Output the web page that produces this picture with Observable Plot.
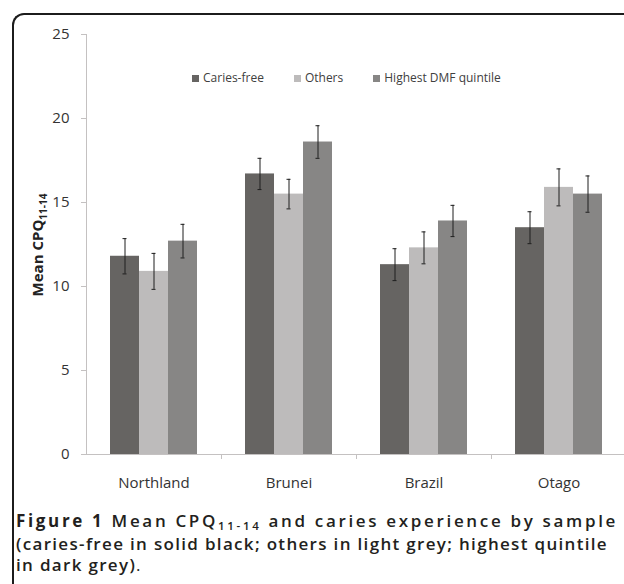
<!DOCTYPE html>
<html><head><meta charset="utf-8">
<script src="https://cdn.jsdelivr.net/npm/d3@7"></script>
<script src="https://cdn.jsdelivr.net/npm/@observablehq/plot@0.6"></script>
<style>
html,body{margin:0;padding:0;background:#fff;overflow:hidden}
#wrap{position:relative;width:624px;height:584px;overflow:hidden;background:#fff}
#frame{position:absolute;left:12px;top:13px;width:700px;height:700px;border-top:2px solid #1c1c1c;border-left:2px solid #1c1c1c;border-top-left-radius:12px;box-sizing:border-box}
#chart{position:absolute;left:0;top:0}
#legend{position:absolute;left:192px;top:70px;display:flex;gap:30px;font-family:'Open Sans';font-size:12px;line-height:16px;color:#404040;align-items:center}
#legend .item{display:flex;align-items:center}
#legend .sw{display:inline-block;width:7px;height:7px;margin-right:4px}
#ylabel{position:absolute;left:37px;top:245px;transform:translate(-50%,-50%) rotate(-90deg);font-family:'Open Sans';font-weight:700;font-size:15px;white-space:nowrap;color:#222}
#ylabel sub{font-size:10px;vertical-align:baseline;position:relative;top:4px}
#caption{position:absolute;left:16px;top:510px;width:610px;font-family:'Open Sans';font-size:17px;line-height:21px;color:#231f20;font-weight:600}
#caption > div{white-space:nowrap}
#caption b{font-weight:700}
#caption sub{font-size:0.68em;vertical-align:baseline;position:relative;top:0.3em}
#caption .n{font-weight:400}
</style></head>
<body><div id="wrap">
<div id="frame"></div>
<div id="chart"></div>
<div id="legend"></div>
<div id="ylabel">Mean CPQ<sub>11-14</sub></div>
<div id="caption">
  <div id="l1"><b>Figure 1</b> Mean CPQ<sub>11-14</sub> and caries experience by sample</div>
  <div id="l2">(caries-free in solid black; others in light grey; highest quintile</div>
  <div id="l3">in dark grey)<span class="n">.</span></div>
</div>
</div>
<script>
const categories = ["Northland", "Brunei", "Brazil", "Otago"];
const series = ["Caries-free", "Others", "Highest DMF quintile"];
const cariesFree = [11.8, 16.7, 11.3, 13.5];
const cariesFreeErr = [1.05, 0.93, 0.95, 0.95];
const others = [10.9, 15.5, 12.3, 15.9];
const othersErr = [1.07, 0.88, 0.95, 1.1];
const highest = [12.7, 18.6, 13.9, 15.5];
const highestErr = [1.0, 0.97, 0.93, 1.08];
const colors = ["#666462", "#bdbbbb", "#878685"];
const yTicks = [0, 5, 10, 15, 20, 25];

const values = [cariesFree, others, highest];
const errs = [cariesFreeErr, othersErr, highestErr];
const rows = [];
categories.forEach((c, i) => {
  series.forEach((s, j) => {
    const v = values[j][i], e = errs[j][i];
    rows.push({category: c, series: s, value: v, lo: v - e, hi: v + e});
  });
});

const axisColor = "#c4c1c1";
const plot = Plot.plot({
  width: 640,
  height: 500,
  marginLeft: 86,
  marginRight: 14,
  marginTop: 34,
  marginBottom: 46,
  style: {fontFamily: "Open Sans", fontSize: "15px", background: "transparent", maxWidth: "none", overflow: "visible"},
  fx: {domain: categories, padding: 0, label: null},
  x: {domain: series, paddingInner: 0, paddingOuter: 0.77, axis: null},
  y: {domain: [0, 25], label: null},
  color: {domain: series, range: colors},
  marks: [
    Plot.barY(rows, {fx: "category", x: "series", y: "value", fill: "series"}),
    Plot.ruleY([0], {stroke: axisColor}),
    Plot.ruleX(rows, {fx: "category", x: "series", y1: "lo", y2: "hi", stroke: "#1e1e1e", strokeWidth: 1}),
    Plot.tickY(rows, {fx: "category", x: "series", y: "lo", stroke: "#1e1e1e", insetLeft: 12.5, insetRight: 12.5}),
    Plot.tickY(rows, {fx: "category", x: "series", y: "hi", stroke: "#1e1e1e", insetLeft: 12.5, insetRight: 12.5}),
    Plot.axisY({ticks: yTicks, tickSize: 5, tickPadding: 12, stroke: axisColor, fill: "#333", fontSize: 15, label: null}),
    Plot.axisFx({anchor: "bottom", tickSize: 0, tickPadding: 23, fontSize: 15, fill: "#333", label: null})
  ]
});
document.getElementById("chart").appendChild(plot);

// axis line and category boundary ticks from the plot's own scales
function getScale(name) {
  const s = plot.scale(name);
  if (s && typeof s.apply === "function") return s;
  return Plot.scale({[name]: s});
}
const sfx = getScale("fx"), sy = getScale("y");
const bw = plot.scale("fx").bandwidth;
const svg = d3.select(plot);
const g = svg.append("g").attr("stroke", axisColor).attr("stroke-width", 1);
const y0 = sy.apply(0), yTop = sy.apply(25);
const left = sfx.apply(categories[0]);
g.append("line").attr("x1", left + 0.5).attr("x2", left + 0.5).attr("y1", yTop).attr("y2", y0);
categories.forEach(c => {
  const xr = sfx.apply(c) + bw;
  g.append("line").attr("x1", xr + 0.5).attr("x2", xr + 0.5).attr("y1", y0).attr("y2", y0 + 5);
});

// legend
const legend = d3.select("#legend");
series.forEach((s, i) => {
  const item = legend.append("div").attr("class", "item");
  item.append("span").attr("class", "sw").style("background", colors[i]);
  item.append("span").text(s);
});

// fit caption lines to their widths in the reference
function widthOf(el) {
  const r = document.createRange(); r.selectNodeContents(el);
  return r.getBoundingClientRect().width;
}
function fitLine(el, target) {
  el.style.letterSpacing = "0px";
  const w = widthOf(el);
  const n = el.textContent.trim().length;
  const ls = (target - w) / n;
  el.style.letterSpacing = ls + "px";
  return ls;
}
function fit() {
  fitLine(document.getElementById("l1"), 602);
  const ls = fitLine(document.getElementById("l2"), 592);
  document.getElementById("l3").style.letterSpacing = ls + "px";
}
fit();
if (document.fonts && document.fonts.ready) document.fonts.ready.then(fit);
</script>
</body></html>
